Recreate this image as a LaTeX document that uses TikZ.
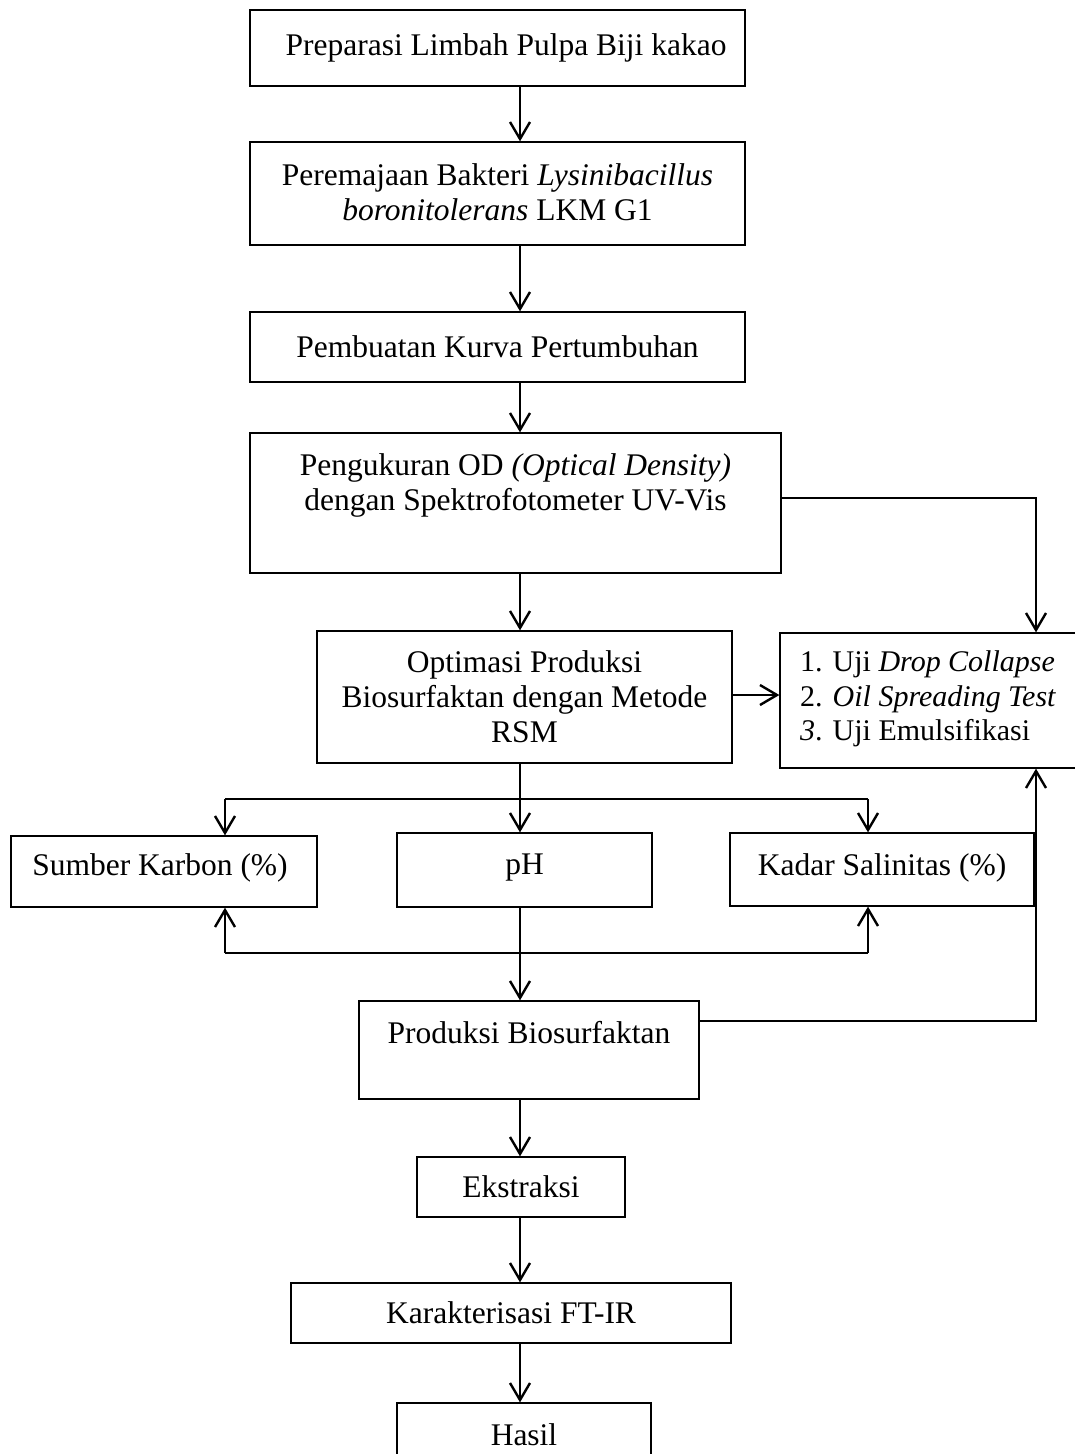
\documentclass[tikz,border=0pt]{standalone}
\usepackage{fontspec}
\setmainfont{Liberation Serif}
\usetikzlibrary{arrows.meta,fit}
\begin{document}
\begin{tikzpicture}[x=1pt,y=1pt,
  box/.style={draw, line width=1.3pt, inner sep=0pt},
  txt/.style={font=\fontsize{31.5}{35}\selectfont, align=center, inner sep=0pt},
  arr/.style={line width=2.4pt, -{Straight Barb[length=17pt,width=20pt,line width=2.4pt]}},
  ln/.style={line width=2.4pt}]
\clip (0,0) rectangle (1075,-1454);
\fill[white] (0,0) rectangle (1075,-1454);
% column coordinates
\coordinate (col) at (520,0);
\coordinate (rc) at (1036,0);
\coordinate (sL) at (225,-799);
\coordinate (sR) at (868,-799);
\coordinate (rL) at (225,-953);
\coordinate (rR) at (868,-953);
% boxes
\node[box, fit={(250,-10)(745,-86)}] (b1) {};
\node[box, fit={(250,-142)(745,-245)}] (b2) {};
\node[box, fit={(250,-312)(745,-382)}] (b3) {};
\node[box, fit={(250,-433)(781,-573)}] (b4) {};
\node[box, fit={(317,-631)(732,-763)}] (b5) {};
\node[box, fit={(780,-633)(1085,-768)}] (uji) {};
\node[box, fit={(11,-836)(317,-907)}] (sumber) {};
\node[box, fit={(397,-833)(652,-907)}] (ph) {};
\node[box, fit={(730,-833)(1034,-906)}] (kadar) {};
\node[box, fit={(359,-1001)(699,-1099)}] (prod) {};
\node[box, fit={(417,-1157)(625,-1217)}] (ekst) {};
\node[box, fit={(291,-1283)(731,-1343)}] (kar) {};
\node[box, fit={(397,-1403)(651,-1480)}] (hasil) {};
% texts
\node[txt] (t1) at (506,-48) {Preparasi Limbah Pulpa Biji kakao};
\node[txt] (t2) at (497.5,-192) {Peremajaan Bakteri \textit{Lysinibacillus}\\\textit{boronitolerans} LKM G1};
\node[txt] (t3) at (497.5,-347) {Pembuatan Kurva Pertumbuhan};
\node[txt] (t4) at (515.5,-485) {Pengukuran OD \textit{(Optical Density)}\\dengan Spektrofotometer UV-Vis};
\node[txt] (t5) at (524.5,-697) {Optimasi Produksi\\Biosurfaktan dengan Metode\\RSM};
\node[txt, font=\fontsize{30}{34.5}\selectfont, align=left, anchor=west] (t6) at (800,-699) {1. Uji \textit{Drop Collapse}\\2. \textit{Oil Spreading Test}\\\textit{3}. Uji Emulsifikasi};
\node[txt] (t7) at (160,-868) {Sumber Karbon (\%)};
\node[txt] (t8) at (524.5,-868) {pH};
\node[txt] (t9) at (882,-868) {Kadar Salinitas (\%)};
\node[txt] (t10) at (529,-1033) {Produksi Biosurfaktan};
\node[txt] (t11) at (521,-1187) {Ekstraksi};
\node[txt] (t12) at (511,-1313) {Karakterisasi FT-IR};
\node[txt] (t13) at (524,-1435) {Hasil};
% connectors
\draw[arr] (b1.south -| col) -- (b2.north -| col);
\draw[arr] (b2.south -| col) -- (b3.north -| col);
\draw[arr] (b3.south -| col) -- (b4.north -| col);
\draw[arr] (b4.south -| col) -- (b5.north -| col);
\draw[arr] ([yshift=5pt]b4.east) -| (uji.north -| rc);
\draw[arr] ([yshift=2pt]b5.east) -- ([yshift=2pt]b5.east -| uji.west);
\draw[arr] (b5.south -| col) -- (ph.north -| col);
\draw[ln] (sL) -- (sR);
\draw[arr] (sL) -- (sumber.north -| sL);
\draw[arr] (sR) -- (kadar.north -| sR);
\draw[arr] (ph.south -| col) -- (prod.north -| col);
\draw[ln] (rL) -- (rR);
\draw[arr] (rL) -- (sumber.south -| rL);
\draw[arr] (rR) -- (kadar.south -| rR);
\draw[arr] ([yshift=29pt]prod.east) -| (uji.south -| rc);
\draw[arr] (prod.south -| col) -- (ekst.north -| col);
\draw[arr] (ekst.south -| col) -- (kar.north -| col);
\draw[arr] (kar.south -| col) -- (hasil.north -| col);
\end{tikzpicture}
\end{document}
